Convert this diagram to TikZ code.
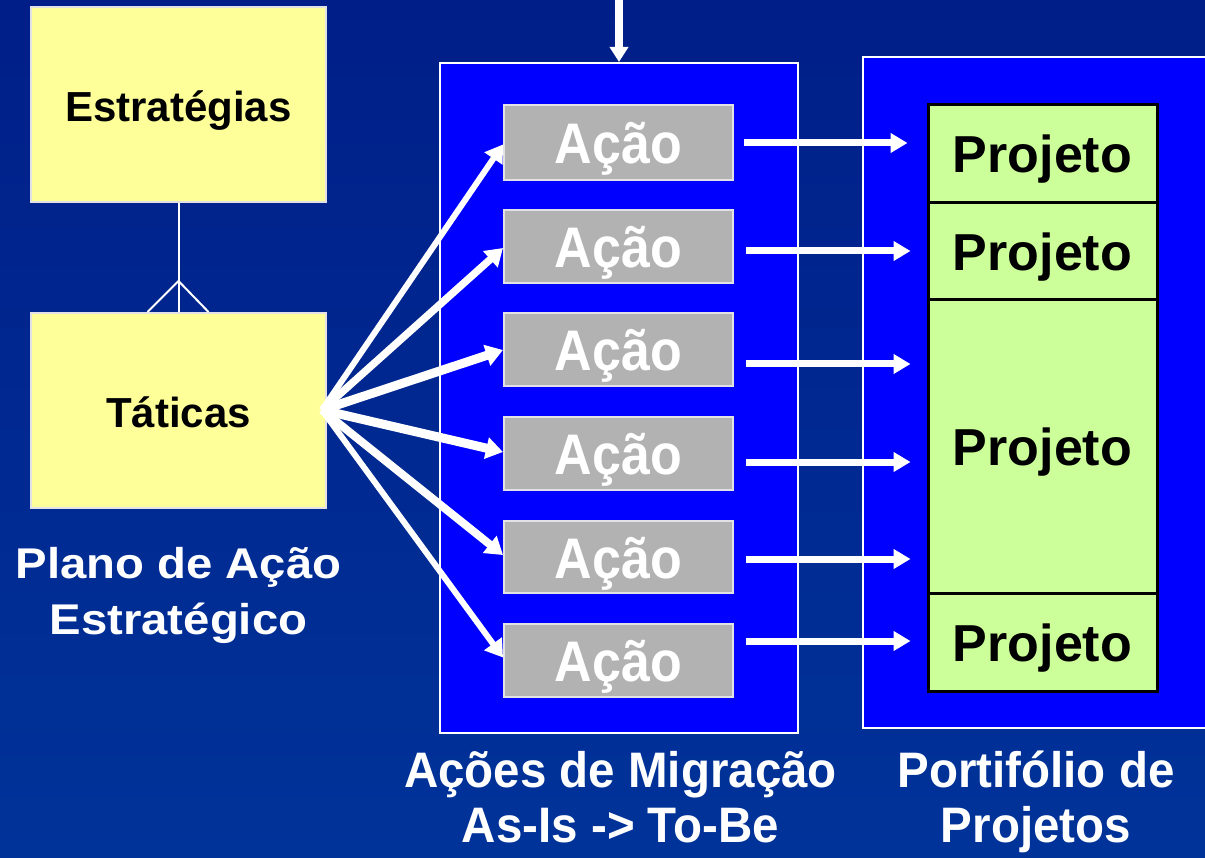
\documentclass[tikz,border=0pt]{standalone}
\usepackage{fontspec}
\setmainfont{Liberation Sans}
\usetikzlibrary{arrows.meta}
\definecolor{bgtop}{RGB}{0,30,136}
\definecolor{bgbot}{RGB}{0,51,153}
\definecolor{framebl}{RGB}{0,0,255}
\definecolor{ylw}{RGB}{255,255,153}
\definecolor{gry}{RGB}{178,178,178}
\definecolor{grn}{RGB}{204,255,153}
\definecolor{lgborder}{RGB}{225,225,230}
\begin{document}
\begin{tikzpicture}[x=1pt,y=-1pt,
  ybox/.style={draw=lgborder,line width=2pt,fill=ylw,inner sep=0pt,
    minimum width=295pt,minimum height=195pt,text=black,
    text height=35pt,text depth=0pt,
    font=\fontsize{42}{48}\selectfont\bfseries},
  frame/.style={draw=white,line width=2pt,fill=framebl,inner sep=0pt},
  acao/.style={draw=lgborder,line width=2pt,fill=gry,inner sep=0pt,
    minimum width=229pt,text=white,text height=42pt,text depth=0pt,
    font=\fontsize{52}{60}\selectfont\bfseries},
  proj/.style={draw=black,line width=3pt,fill=grn,inner sep=0pt,
    minimum width=229pt,text=black,text height=38pt,text depth=0pt,
    font=\fontsize{52}{60}\selectfont\bfseries},
  lbl/.style={text=white,inner sep=0pt,anchor=base,
    font=\fontsize{47.5}{56}\selectfont\bfseries},
  lblp/.style={text=white,inner sep=0pt,anchor=base,
    font=\fontsize{43}{56}\selectfont\bfseries},
  conn/.style={draw=white,line width=2pt},
  fan/.style={draw=white,-{Triangle[length=17pt,width=21pt]}},
  harrow/.style={draw=white,line width=7pt,-{Triangle[length=17pt,width=19pt]}},
  varrow/.style={draw=white,line width=7.5pt,-{Triangle[length=15pt,width=18pt]}}]
\useasboundingbox (0,0) rectangle (1205,858);
\shade[top color=bgtop,bottom color=bgbot] (0,0) rectangle (1205,858);

% frames
\node[frame,minimum width=358pt,minimum height=670pt] (mig) at (619,398) {};
\node[frame,minimum width=352pt,minimum height=671pt] (port) at (1039,392.5) {};

% left boxes
\node[ybox] (estr) at (178.5,104.5) {Estratégias};
\node[ybox] (tac) at (178.5,410.5) {Táticas};
\draw[conn] (estr.south) -- (tac.north);
\draw[conn] ([xshift=-31pt]tac.north) -- ([yshift=31pt]tac.north) -- ([xshift=30pt]tac.north);

% acao boxes
\node[acao,minimum height=75pt] (a1) at (618.5,142.5) {\scalebox{1}[1.1]{Ação}};
\node[acao,minimum height=73pt] (a2) at (618.5,246.5) {\scalebox{1}[1.1]{Ação}};
\node[acao,minimum height=73pt] (a3) at (618.5,350) {\scalebox{1}[1.1]{Ação}};
\node[acao,minimum height=72pt] (a4) at (618.5,453.5) {\scalebox{1}[1.1]{Ação}};
\node[acao,minimum height=72pt] (a5) at (618.5,557) {\scalebox{1}[1.1]{Ação}};
\node[acao,minimum height=73pt] (a6) at (618.5,660.5) {\scalebox{1}[1.1]{Ação}};

% projeto column
\node[proj,minimum height=98pt] (p1) at (1042.5,154) {Projeto};
\node[proj,minimum height=97pt] (p2) at (1042.5,251.5) {Projeto};
\node[proj,minimum height=293pt] (p3) at (1042.5,446.5) {Projeto};
\node[proj,minimum height=98pt] (p4) at (1042.5,642) {Projeto};

% fan arrows
\coordinate (src) at (322,410);
\draw[fan,line width=6pt] (src) -- ([yshift=-2pt]a1.west);
\draw[fan,line width=7.5pt] (src) -- ([yshift=-1.5pt]a2.west);
\draw[fan,line width=9pt] (src) -- (a3.west);
\draw[fan,line width=9pt] (src) -- ([yshift=1.5pt]a4.west);
\draw[fan,line width=8pt] (src) -- ([yshift=2pt]a5.west);
\draw[fan,line width=6pt] (src) -- ([yshift=3pt]a6.west);

% horizontal arrows
\draw[harrow,shorten <=10pt,shorten >=19pt] ([yshift=-0.5pt]a1.east) -- ([yshift=-0.5pt]a1.east -| p1.west);
\draw[harrow,shorten <=12pt,shorten >=16pt] ([yshift=-4.5pt]a2.east) -- ([yshift=-4.5pt]a2.east -| p2.west);
\draw[harrow,shorten <=12pt,shorten >=16pt] ([yshift=-14pt]a3.east) -- ([yshift=-14pt]a3.east -| p3.west);
\draw[harrow,shorten <=12pt,shorten >=16pt] ([yshift=-8.5pt]a4.east) -- ([yshift=-8.5pt]a4.east -| p3.west);
\draw[harrow,shorten <=12pt,shorten >=16pt] ([yshift=-2pt]a5.east) -- ([yshift=-2pt]a5.east -| p3.west);
\draw[harrow,shorten <=12pt,shorten >=16pt] ([yshift=19.5pt]a6.east) -- ([yshift=19.5pt]a6.east -| p4.west);

% top arrow
\coordinate (topin) at (619,-5);
\draw[varrow] (topin) -- (topin |- mig.north);

% labels
\node[lblp] (lplano1) at (178.5,578) {\scalebox{1.1}[1]{Plano de Ação}};
\node[lblp] (lplano2) at (178.5,634) {\scalebox{1.1}[1]{Estratégico}};
\node[lbl] (lacoes1) at (620.5,787) {\scalebox{1}[1.05]{Ações de Migração}};
\node[lbl] (lacoes2) at (620.5,842) {\scalebox{1}[1.05]{As-Is -> To-Be}};
\node[lbl] (lport1) at (1036,787) {\scalebox{1}[1.05]{Portifólio de}};
\node[lbl] (lport2) at (1036,842) {\scalebox{1}[1.05]{Projetos}};
\end{tikzpicture}
\end{document}
